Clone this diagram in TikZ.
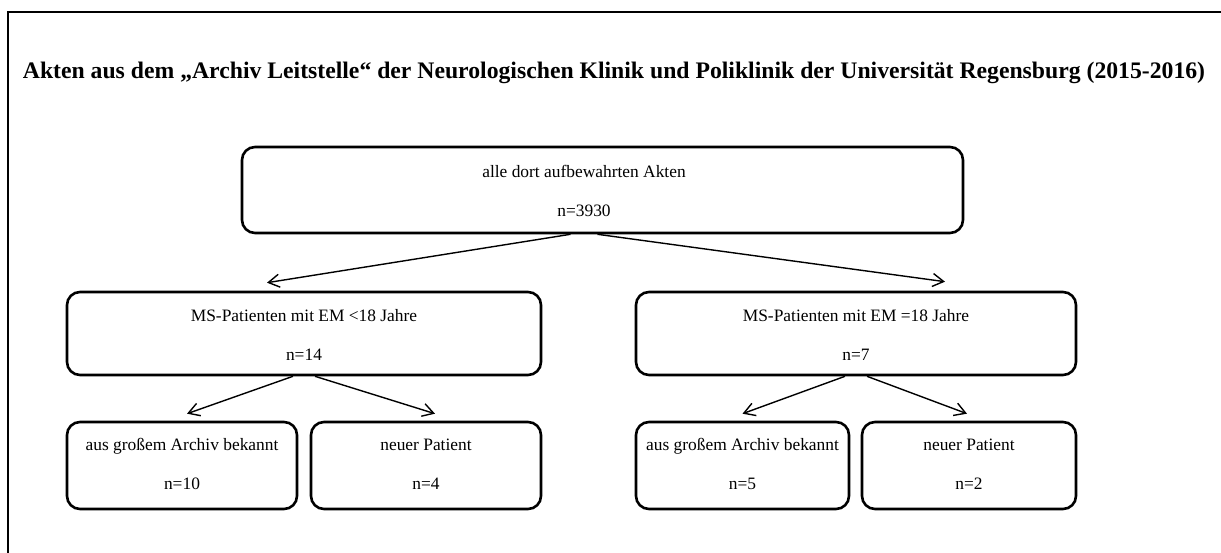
\documentclass[tikz,border=0pt]{standalone}
\usepackage{fontspec}
\setmainfont{Liberation Serif}
\usetikzlibrary{arrows.meta,calc}
\begin{document}
\begin{tikzpicture}[x=1pt,y=-1pt,
  box/.style={draw,line width=2.6pt,rounded corners=13pt,inner sep=0pt},
  txt/.style={align=center,font=\fontsize{17.4}{39}\selectfont,inner sep=0pt},
  conn/.style={line width=1.4pt,-{Straight Barb[length=11pt,width=13pt,line width=1.4pt]}},
  frame/.style={line width=1.8pt}]
\useasboundingbox (0,0) rectangle (1221,553);
\draw[frame] (8,553) -- (8,12) -- (1221,12);
\node[font=\fontsize{23.7}{26}\selectfont\bfseries,inner sep=0pt] (title) at (614,73)
  {Akten aus dem „Archiv Leitstelle“ der Neurologischen Klinik und Poliklinik der Universität Regensburg (2015-2016)};
% boxes
\node[box,minimum width=721pt,minimum height=86pt] (top) at (602.5,190) {};
\node[box,minimum width=474pt,minimum height=83pt] (ml) at (304,333.5) {};
\node[box,minimum width=440pt,minimum height=83pt] (mr) at (856,333.5) {};
\node[box,minimum width=230pt,minimum height=87pt] (ll) at (182,465.5) {};
\node[box,minimum width=230pt,minimum height=87pt] (lr) at (426,465.5) {};
\node[box,minimum width=213pt,minimum height=87pt] (rl) at (742.5,465.5) {};
\node[box,minimum width=214pt,minimum height=87pt] (rr) at (969,465.5) {};
% texts
\node[txt] (ttop) at (584,191) {alle dort aufbewahrten Akten\\n=3930};
\node[txt] (tml) at (304,334.5) {MS-Patienten mit EM <18 Jahre\\n=14};
\node[txt] (tmr) at (856,334.5) {MS-Patienten mit EM =18 Jahre\\n=7};
\node[txt] (tll) at (182,464) {aus großem Archiv bekannt\\n=10};
\node[txt] (tlr) at (426,464) {neuer Patient\\n=4};
\node[txt] (trl) at (742.5,464) {aus großem Archiv bekannt\\n=5};
\node[txt] (trr) at (969,464) {neuer Patient\\n=2};
% connectors
\draw[conn] ($(top.south)+(-32,0)$) -- ($(ml.north)+(-37,-8)$);
\draw[conn] ($(top.south)+(-5,0)$) -- ($(mr.north)+(89,-9)$);
\draw[conn] ($(ml.south)+(-11,0)$) -- ($(ll.north)+(5,-7)$);
\draw[conn] ($(ml.south)+(11,0)$) -- ($(lr.north)+(9,-7)$);
\draw[conn] ($(mr.south)+(-11,0)$) -- ($(rl.north)+(0,-7)$);
\draw[conn] ($(mr.south)+(11,0)$) -- ($(rr.north)+(-2,-7)$);
\end{tikzpicture}
\end{document}
